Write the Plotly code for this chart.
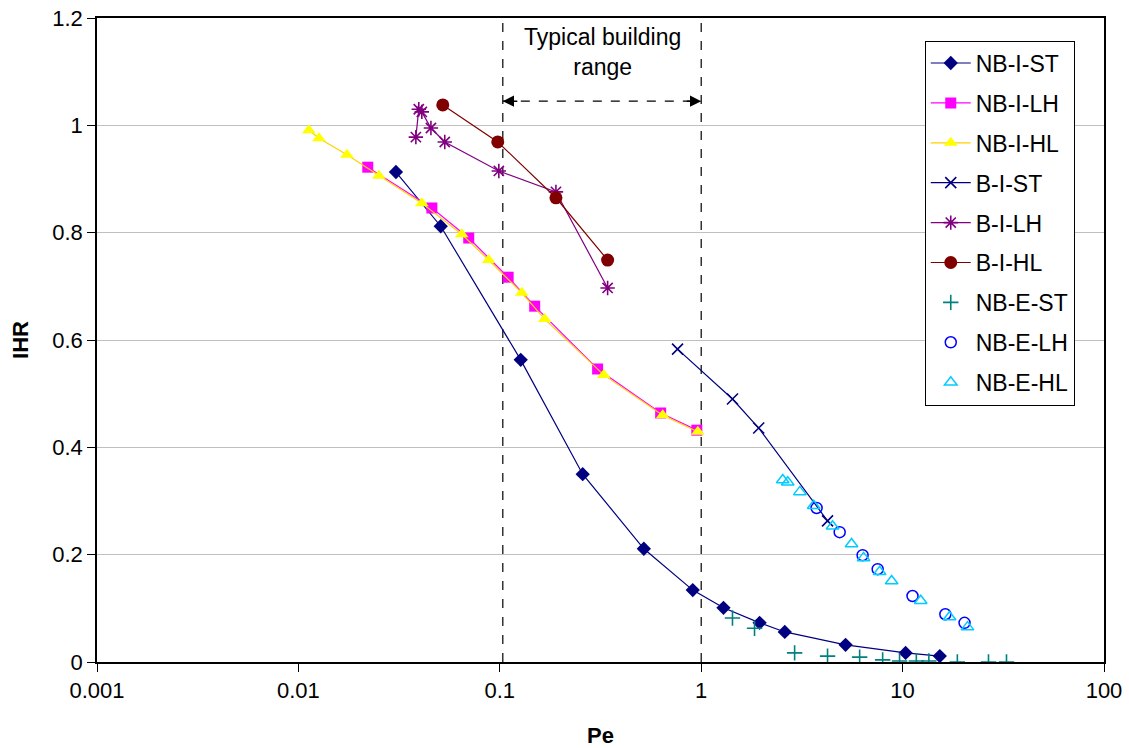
import math
import plotly.graph_objects as go

# ---------------- data ----------------
nb_i_st_x = [0.0305, 0.0509, 0.127, 0.258, 0.519, 0.908, 1.29, 1.95, 2.60, 5.21, 10.35, 15.3]
nb_i_st_y = [0.913, 0.812, 0.563, 0.350, 0.211, 0.134, 0.101, 0.073, 0.056, 0.032, 0.017, 0.011]

nb_i_lh_x = [0.0221, 0.0460, 0.0701, 0.110, 0.149, 0.306, 0.629, 0.951]
nb_i_lh_y = [0.922, 0.846, 0.790, 0.717, 0.663, 0.546, 0.464, 0.432]

nb_i_hl_x = [0.01127, 0.01265, 0.01742, 0.0251, 0.0410, 0.0647, 0.0881, 0.1285, 0.167, 0.328, 0.644, 0.962]
nb_i_hl_y = [0.991, 0.976, 0.945, 0.906, 0.855, 0.797, 0.749, 0.688, 0.639, 0.535, 0.460, 0.429]

b_i_st_x = [0.763, 1.43, 1.93, 4.24]
b_i_st_y = [0.583, 0.490, 0.436, 0.263]

b_i_lh_x = [0.0383, 0.0396, 0.0410, 0.0455, 0.0533, 0.0989, 0.190, 0.343]
b_i_lh_y = [0.978, 1.030, 1.025, 0.995, 0.969, 0.915, 0.876, 0.697]

b_i_hl_x = [0.0521, 0.0977, 0.190, 0.343]
b_i_hl_y = [1.038, 0.969, 0.865, 0.749]

nb_e_st_x = [1.43, 1.84, 2.91, 4.24, 6.12, 7.96, 9.66, 11.7, 13.5, 18.7, 26.7, 32.8]
nb_e_st_y = [0.082, 0.063, 0.017, 0.011, 0.009, 0.004, 0.002, 0.002, 0.002, 0.0, 0.0, 0.0]

nb_e_lh_x = [3.74, 4.87, 6.33, 7.52, 11.2, 16.3, 20.3]
nb_e_lh_y = [0.287, 0.242, 0.199, 0.173, 0.123, 0.089, 0.073]

nb_e_hl_x = [2.54, 2.69, 3.09, 3.62, 4.49, 5.58, 6.40, 7.69, 8.82, 12.3, 17.1, 21.0]
nb_e_hl_y = [0.339, 0.335, 0.317, 0.291, 0.253, 0.220, 0.194, 0.168, 0.151, 0.114, 0.084, 0.065]

range_lo = 0.1035
range_hi = 1.0
arrow_y = 1.045

x_tickvals = [0.001, 0.01, 0.1, 1, 10, 100]
x_ticktext = ["0.001", "0.01", "0.1", "1", "10", "100"]
y_tickvals = [0, 0.2, 0.4, 0.6, 0.8, 1.0, 1.2]
y_ticktext = ["0", "0.2", "0.4", "0.6", "0.8", "1", "1.2"]

FONT = "Arial, Liberation Sans, sans-serif"

fig = go.Figure()

# typical building range dashed lines
for xv in [range_lo, range_hi]:
    fig.add_trace(go.Scatter(x=[xv, xv], y=[0, 1.2], mode="lines",
                             line=dict(color="black", width=1.2, dash="dash"),
                             showlegend=False, hoverinfo="skip"))
fig.add_trace(go.Scatter(x=[range_lo, range_hi], y=[arrow_y, arrow_y], mode="lines",
                         line=dict(color="black", width=1.2, dash="dash"),
                         showlegend=False, hoverinfo="skip"))

series = [
    ("NB-I-ST", nb_i_st_x, nb_i_st_y, "lines+markers", "diamond", 11, "#000080", "#000080", None),
    ("NB-I-LH", nb_i_lh_x, nb_i_lh_y, "lines+markers", "square", 11, "#FF00FF", "#FF00FF", None),
    ("NB-I-HL", nb_i_hl_x, nb_i_hl_y, "lines+markers", "triangle-up", 12, "#FFFF00", "#FFD000", None),
    ("B-I-ST", b_i_st_x, b_i_st_y, "lines+markers", "x-thin-open", 11, "#000080", "#000080", 1.6),
    ("B-I-LH", b_i_lh_x, b_i_lh_y, "lines+markers", "asterisk-open", 12, "#800080", "#800080", 1.6),
    ("B-I-HL", b_i_hl_x, b_i_hl_y, "lines+markers", "circle", 13, "#800000", "#800000", None),
    ("NB-E-ST", nb_e_st_x, nb_e_st_y, "markers", "cross-thin-open", 11, "#008080", None, 1.6),
    ("NB-E-LH", nb_e_lh_x, nb_e_lh_y, "markers", "circle-open", 11, "#0000FF", None, 1.5),
    ("NB-E-HL", nb_e_hl_x, nb_e_hl_y, "markers", "triangle-up-open", 11, "#00CCFF", None, 1.5),
]

for name, xs, ys, mode, sym, size, mcol, lcol, mlw in series:
    marker = dict(symbol=sym, size=size, color=mcol)
    if mlw is not None:
        marker["line"] = dict(color=mcol, width=mlw)
    tr = go.Scatter(x=xs, y=ys, mode=mode, name=name, marker=marker,
                    legendgroup=name)
    if lcol is not None:
        tr.line = dict(color=lcol, width=1.2)
    fig.add_trace(tr)

# arrow heads
fig.add_annotation(x=math.log10(range_lo), y=arrow_y, xref="x", yref="y",
                   ax=16, ay=0, showarrow=True, arrowhead=2, arrowsize=1.6,
                   arrowwidth=1.4, arrowcolor="black", text="")
fig.add_annotation(x=math.log10(range_hi), y=arrow_y, xref="x", yref="y",
                   ax=-16, ay=0, showarrow=True, arrowhead=2, arrowsize=1.6,
                   arrowwidth=1.4, arrowcolor="black", text="")
fig.add_annotation(x=math.log10(0.324), y=1.137, xref="x", yref="y",
                   text="Typical building<br>range", showarrow=False,
                   font=dict(family=FONT, size=23, color="black"))

fig.update_layout(
    width=1129, height=748,
    margin=dict(l=97, r=25, t=18, b=86),
    paper_bgcolor="white", plot_bgcolor="white",
    font=dict(family=FONT, size=22, color="black"),
    legend=dict(x=0.822, y=0.965, xanchor="left", yanchor="top",
                bordercolor="black", borderwidth=1, bgcolor="white",
                font=dict(family=FONT, size=23, color="black"),
                tracegroupgap=7, itemwidth=40),
    xaxis=dict(type="log", range=[-3, 2], tickvals=x_tickvals, ticktext=x_ticktext,
               showgrid=False, zeroline=False, showline=True, linecolor="black",
               linewidth=1.5, mirror=True, ticks="outside", ticklen=8,
               tickcolor="black", automargin=False,
               title=dict(text="<b>Pe</b>", standoff=33, font=dict(size=22))),
    yaxis=dict(range=[0, 1.2], tickvals=y_tickvals, ticktext=y_ticktext,
               showgrid=True, gridcolor="#C0C0C0", gridwidth=1, zeroline=False,
               showline=True, linecolor="black", linewidth=1.5, mirror=True,
               ticks="outside", ticklen=8, tickcolor="black", automargin=False,
               title=dict(text="<b>IHR</b>", standoff=18, font=dict(size=22))),
)

fig.write_html("out.html")
